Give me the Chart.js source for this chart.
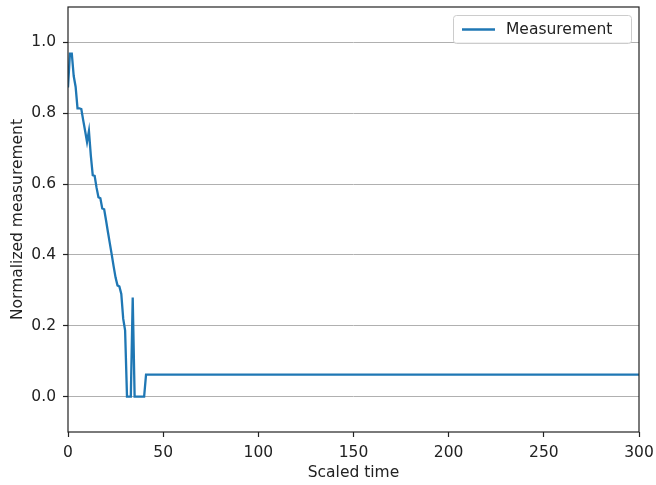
<!DOCTYPE html>
<html>
<head>
<meta charset="utf-8">
<script src="https://cdn.jsdelivr.net/npm/chart.js@4"></script>
<style>
  body { margin: 0; background: #fff; }
</style>
</head>
<body>
<canvas id="myChart" width="656" height="485"></canvas>
<script>
// values
const times = [0, 1, 2, 3, 4, 5, 6, 7, 8, 9, 10, 11, 12, 13, 14, 15, 16, 17, 18, 19, 20,
  21, 22, 23, 24, 25, 26, 27, 28, 29, 30, 31, 32, 33, 34, 35, 36, 37, 38, 39, 40, 41, 300];
const measurement = [0.873, 0.968, 0.968, 0.905, 0.875, 0.814, 0.814, 0.812, 0.78, 0.75, 0.719,
  0.75, 0.68, 0.625, 0.623, 0.59, 0.563, 0.56, 0.531, 0.529, 0.497, 0.464, 0.432, 0.4, 0.367,
  0.336, 0.314, 0.311, 0.29, 0.22, 0.187, 0, 0, 0, 0.28, 0, 0, 0, 0, 0, 0, 0.062, 0.062];
const xTicks = [0, 50, 100, 150, 200, 250, 300];
const yTicks = [0, 0.2, 0.4, 0.6, 0.8, 1.0];

const FONT = 'DejaVu Sans';
const TEXT = '#222';

const framePlugin = {
  id: 'frame',
  afterDraw(chart) {
    const { ctx, chartArea: a } = chart;
    ctx.save();
    ctx.strokeStyle = TEXT;
    ctx.lineWidth = 1.2;
    ctx.strokeRect(a.left, a.top, a.right - a.left, a.bottom - a.top);

    // legend box, upper right
    const ds = chart.data.datasets[0];
    const x0 = 453, y0 = 15, w = 178, h = 28, r = 3;
    ctx.fillStyle = 'rgba(255,255,255,0.8)';
    ctx.strokeStyle = '#cccccc';
    ctx.lineWidth = 1;
    ctx.beginPath();
    ctx.roundRect(x0 + 0.5, y0 + 0.5, w, h, r);
    ctx.fill();
    ctx.stroke();
    ctx.strokeStyle = ds.borderColor;
    ctx.lineWidth = ds.borderWidth;
    ctx.beginPath();
    ctx.moveTo(462, y0 + 14.5);
    ctx.lineTo(495, y0 + 14.5);
    ctx.stroke();
    ctx.fillStyle = TEXT;
    ctx.font = '15.5px "' + FONT + '"';
    ctx.textBaseline = 'middle';
    ctx.fillText(ds.label, 506, y0 + 14.5);
    ctx.restore();
  }
};

new Chart(document.querySelector('#myChart').getContext('2d'), {
  type: 'line',
  data: {
    datasets: [{
      label: 'Measurement',
      data: times.map((t, i) => ({ x: t, y: measurement[i] })),
      borderColor: '#1f77b4',
      backgroundColor: '#1f77b4',
      borderWidth: 2.3,
      pointRadius: 0,
      tension: 0,
      fill: false,
    }],
  },
  options: {
    responsive: false,
    animation: false,
    layout: { padding: { left: 0, top: 7, right: 17, bottom: 0 } },
    plugins: {
      legend: { display: false },
      tooltip: { enabled: false },
    },
    scales: {
      x: {
        type: 'linear',
        min: 0,
        max: 300,
        afterBuildTicks: s => { s.ticks = xTicks.map(v => ({ value: v })); },
        afterFit: s => { s.height = 53; s.paddingLeft = 0; s.paddingRight = 0; },
        grid: { drawOnChartArea: false, drawTicks: true, tickLength: 5, tickColor: TEXT, tickWidth: 1.2 },
        border: { display: false },
        ticks: { color: TEXT, padding: 7, maxRotation: 0, font: { family: FONT, size: 15.5 } },
        title: {
          display: true,
          text: 'Scaled time',
          color: TEXT,
          font: { family: FONT, size: 15.5 },
          padding: { top: 0, bottom: 3 },
        },
      },
      y: {
        min: -0.1,
        max: 1.1,
        afterBuildTicks: s => { s.ticks = yTicks.map(v => ({ value: v })); },
        afterFit: s => { s.width = 68; s.paddingTop = 0; s.paddingBottom = 0; },
        grid: { color: '#b0b0b0', lineWidth: 1, tickLength: 5, tickColor: TEXT, tickWidth: 1.2 },
        border: { display: false },
        ticks: {
          color: TEXT,
          padding: 7,
          font: { family: FONT, size: 15.5 },
          callback: v => v.toFixed(1),
        },
        title: {
          display: true,
          text: 'Normalized measurement',
          color: TEXT,
          font: { family: FONT, size: 15.5 },
          padding: { top: 9, bottom: 0 },
        },
      },
    },
  },
  plugins: [framePlugin],
});
</script>
</body>
</html>
